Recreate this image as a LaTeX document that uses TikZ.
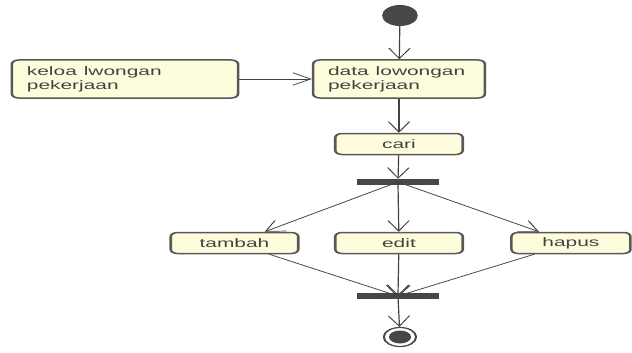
\documentclass[tikz,border=0pt]{standalone}
\usepackage{fontspec}
\setmainfont{Liberation Sans}
\usetikzlibrary{arrows.meta}
\definecolor{boxfill}{RGB}{253,253,221}
\definecolor{boxline}{RGB}{88,88,88}
\definecolor{ink}{RGB}{66,66,66}
\definecolor{dot}{RGB}{71,71,71}
\tikzset{
  act/.style={draw=boxline, line width=1.5pt, fill=boxfill, rounded corners=4pt, text=ink,
    font=\fontsize{12.3}{14}\selectfont, minimum height=21pt, inner sep=0pt},
  actlong/.style={act, minimum height=38pt, align=left, text width=#1, inner xsep=8.8pt},
  bar/.style={fill=dot, minimum width=48pt, minimum height=6pt, inner sep=0pt},
  flow/.style={draw=ink, line width=0.7pt, -{Straight Barb[length=10.5pt,width=12.5pt]}},
}

\begin{document}
\begin{tikzpicture}
\useasboundingbox (0,0) rectangle (632pt,-353pt);
\begin{scope}[x=0.5882pt, y=-1pt, transform canvas={xscale=1.7}]
% nodes
\node[circle, fill=dot, minimum size=21pt, inner sep=0pt] (start) at (400,15.5) {};
\node[actlong=83.4pt] (data) at (399,79) {data lowongan\\pekerjaan};
\node[actlong=115.4pt] (kelola) at (125,79) {keloa lwongan\\pekerjaan};
\node[act, minimum width=75pt] (cari) at (399,144) {cari};
\node[bar] (fork) at (398,182) {};
\node[act, minimum width=75pt] (tambah) at (234.5,243) {tambah};
\node[act, minimum width=75pt] (edit) at (399,243) {edit};
\node[act, minimum width=70pt] (hapus) at (571,243) {hapus};
\node[bar] (join) at (398,296) {};
\node[circle, draw=dot, line width=1.2pt, minimum size=19pt, inner sep=0pt] (end) at (400,337) {};
\fill[dot] (end.center) circle (6.5pt);
% flows
\draw[flow] (start) -- (data);
\draw[flow] (kelola) -- (data);
\draw[flow] (data) -- (cari);
\draw[flow] (cari) -- (fork);
\foreach \b in {tambah, edit, hapus} {
  \draw[flow] (fork.center) -- (\b);
  \draw[flow] (\b) -- (join.center);
}
\draw[flow] (join) -- (end);
\end{scope}
\end{tikzpicture}
\end{document}
